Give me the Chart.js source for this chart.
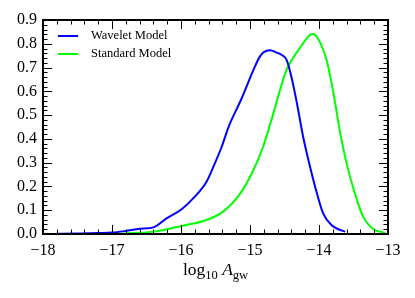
<!DOCTYPE html>
<html>
<head>
<meta charset="utf-8">
<script src="https://cdn.jsdelivr.net/npm/chart.js@4/dist/chart.umd.min.js"></script>
<style>
  html, body { margin: 0; padding: 0; background: #fff; }
  #wrap { width: 415px; height: 298px; }
</style>
</head>
<body>
<div id="wrap"><canvas id="c" width="415" height="298"></canvas></div>
<script>
// posterior curves
const waveletX = [-17.85, -17.5, -17.2, -17.0, -16.8, -16.6, -16.4, -16.21, -15.99, -15.8, -15.63, -15.51, -15.41, -15.31, -15.12, -14.95, -14.86, -14.8, -14.71, -14.62, -14.54, -14.47, -14.4, -14.32, -14.23, -14.13, -14.03, -13.94, -13.82, -13.72, -13.62];
const waveletY = [0.0, 0.002, 0.004, 0.006, 0.013, 0.022, 0.028, 0.066, 0.104, 0.157, 0.22, 0.297, 0.367, 0.451, 0.571, 0.69, 0.745, 0.765, 0.773, 0.764, 0.753, 0.732, 0.661, 0.55, 0.409, 0.283, 0.171, 0.087, 0.038, 0.02, 0.01];

const standardX = [-17.1, -16.8, -16.59, -16.4, -16.2, -15.99, -15.63, -15.39, -15.14, -14.95, -14.81, -14.69, -14.47, -14.28, -14.13, -14.08, -13.99, -13.89, -13.79, -13.7, -13.6, -13.48, -13.36, -13.21, -13.04];
const standardY = [0.0, 0.002, 0.005, 0.01, 0.02, 0.034, 0.059, 0.094, 0.171, 0.269, 0.367, 0.479, 0.69, 0.781, 0.837, 0.841, 0.809, 0.732, 0.592, 0.437, 0.297, 0.171, 0.073, 0.02, 0.005];

const seriesLabels = ['Wavelet Model', 'Standard Model'];
const xTicks = [-18, -17, -16, -15, -14, -13];

const serif = "'Liberation Serif', 'Times New Roman', serif";

const toPoints = (xs, ys) => xs.map((x, i) => ({ x: x, y: ys[i] }));

// frame + inward ticks on all four sides (matplotlib style)
const frameTicks = {
    id: 'frameTicks',
    afterDraw(chart) {
        const { ctx, chartArea: a, scales } = chart;
        const xs = scales.x, ys = scales.y;
        ctx.save();
        ctx.strokeStyle = '#000';
        ctx.lineWidth = 1;
        for (let i = 0; i <= 25; i++) {
            const v = -18 + i * 0.2;
            const px = Math.round(xs.getPixelForValue(v)) + 0.5;
            const len = (i % 5 === 0) ? 9 : 4.5;
            ctx.beginPath();
            ctx.moveTo(px, a.bottom); ctx.lineTo(px, a.bottom - len);
            ctx.moveTo(px, a.top); ctx.lineTo(px, a.top + len);
            ctx.stroke();
        }
        for (let i = 0; i <= 45; i++) {
            const v = i * 0.02;
            const py = Math.round(ys.getPixelForValue(v)) + 0.5;
            const len = (i % 5 === 0) ? 9 : 4.5;
            ctx.beginPath();
            ctx.moveTo(a.left, py); ctx.lineTo(a.left + len, py);
            ctx.moveTo(a.right, py); ctx.lineTo(a.right - len, py);
            ctx.stroke();
        }
        ctx.lineWidth = 2;
        ctx.strokeRect(a.left, a.top, a.right - a.left, a.bottom - a.top);
        ctx.restore();
    }
};

// legend drawn inside the plot, top-left, no box
const innerLegend = {
    id: 'innerLegend',
    afterDraw(chart) {
        const { ctx, chartArea: a } = chart;
        ctx.save();
        ctx.font = '12.5px ' + serif;
        ctx.textBaseline = 'middle';
        chart.data.datasets.forEach((ds, i) => {
            const y = a.top + 16 + i * 18;
            ctx.strokeStyle = ds.borderColor;
            ctx.lineWidth = 2;
            ctx.beginPath();
            ctx.moveTo(a.left + 15, y); ctx.lineTo(a.left + 35, y);
            ctx.stroke();
            ctx.fillStyle = '#000';
            ctx.fillText(ds.label, a.left + 48, y);
        });
        ctx.restore();
    }
};

// x axis title: log10 A_gw with sub/italic parts
const xTitle = {
    id: 'xTitle',
    afterDraw(chart) {
        const { ctx, chartArea: a } = chart;
        const parts = [
            { t: 'log', f: '17.5px ' + serif, dy: 0 },
            { t: '10', f: '12.5px ' + serif, dy: 4 },
            { t: ' ', f: '17.5px ' + serif, dy: 0 },
            { t: 'A', f: 'italic 17.5px ' + serif, dy: 0 },
            { t: 'gw', f: '12.5px ' + serif, dy: 4 }
        ];
        ctx.save();
        let w = 0;
        parts.forEach(p => { ctx.font = p.f; p.w = ctx.measureText(p.t).width; w += p.w; });
        let x = (a.left + a.right) / 2 - w / 2;
        const base = 275;
        ctx.fillStyle = '#000';
        ctx.textBaseline = 'alphabetic';
        parts.forEach(p => {
            ctx.font = p.f;
            ctx.fillText(p.t, x, base + p.dy);
            x += p.w;
        });
        ctx.restore();
    }
};

new Chart(document.getElementById('c'), {
    type: 'line',
    data: {
        datasets: [
            {
                label: seriesLabels[0],
                data: toPoints(waveletX, waveletY),
                borderColor: '#0000ff',
                borderWidth: 2,
                pointRadius: 0,
                cubicInterpolationMode: 'monotone',
                fill: false
            },
            {
                label: seriesLabels[1],
                data: toPoints(standardX, standardY),
                borderColor: '#00ff00',
                borderWidth: 2,
                pointRadius: 0,
                cubicInterpolationMode: 'monotone',
                fill: false
            }
        ]
    },
    options: {
        responsive: false,
        animation: false,
        layout: { padding: { top: 20, right: 27, left: 0, bottom: 0 } },
        plugins: {
            legend: { display: false },
            tooltip: { enabled: false }
        },
        scales: {
            x: {
                type: 'linear',
                min: -18,
                max: -13,
                afterBuildTicks: (s) => { s.ticks = xTicks.map(v => ({ value: v })); },
                afterFit: (s) => { s.height = 64; },
                grid: { display: false, drawTicks: false },
                border: { display: false },
                ticks: {
                    color: '#000',
                    padding: 7,
                    maxRotation: 0,
                    font: { family: serif, size: 16 },
                    callback: (v) => (v < 0 ? '\u2212' + Math.abs(v) : '' + v)
                }
            },
            y: {
                min: 0,
                max: 0.9,
                afterFit: (s) => { s.width = 43; },
                grid: { display: false, drawTicks: false },
                border: { display: false },
                ticks: {
                    color: '#000',
                    stepSize: 0.1,
                    padding: 6,
                    font: { family: serif, size: 16 },
                    callback: (v) => v.toFixed(1)
                }
            }
        }
    },
    plugins: [frameTicks, innerLegend, xTitle]
});
</script>
</body>
</html>
